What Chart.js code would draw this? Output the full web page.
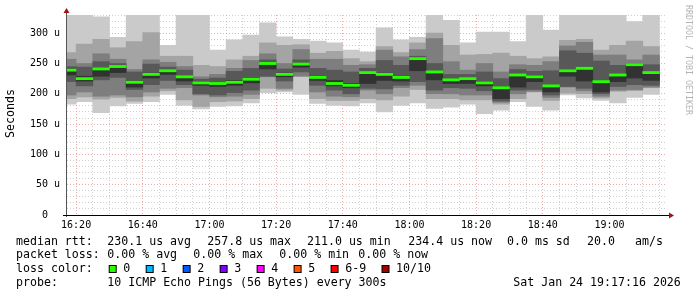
<!DOCTYPE html>
<html>
<head>
<meta charset="utf-8">
<script src="https://cdn.jsdelivr.net/npm/chart.js@4.4.1/dist/chart.umd.min.js"></script>
<style>
html, body { margin: 0; padding: 0; background: #fff; overflow: hidden; }
canvas { display: block; }
</style>
</head>
<body>
<canvas id="smoke" width="697" height="297"></canvas>
<script>
// --- time range of the graph and the 5 minute steps (timestamp = end of step) ---
const timeRange = ['16:17:16', '19:17:16'];
const stepEnd = ['16:20','16:25','16:30','16:35','16:40','16:45','16:50','16:55',
  '17:00','17:05','17:10','17:15','17:20','17:25','17:30','17:35','17:40','17:45','17:50','17:55',
  '18:00','18:05','18:10','18:15','18:20','18:25','18:30','18:35','18:40','18:45','18:50','18:55',
  '19:00','19:05','19:10','19:15'];

// --- 10 pings per step, sorted (rtt1 = fastest, rtt10 = slowest), in us ---
const rtt10 = [335,335,327,293,335,335,280,335,335,272,289,297,317,294,290,287,284,272,269,309,289,293,335,321,284,302,302,286,335,305,335,335,335,335,319,335];
const rtt9  = [268,282,290,276,286,301,262,262,247,245,256,262,284,280,281,267,270,258,253,278,268,284,300,280,264,265,267,262,258,261,288,290,272,280,287,278];
const rtt8  = [257,250,266,257,240,256,252,245,228,232,242,255,266,250,273,257,257,247,248,272,261,273,291,253,239,250,236,248,247,253,279,285,264,264,256,264];
const rtt7  = [245,244,253,250,236,249,244,239,224,226,237,242,256,241,256,242,239,236,242,255,247,262,250,232,232,236,225,240,237,238,271,267,254,247,250,248];
const rtt6  = [241,229,242,246,221,234,239,229,220,218,222,226,250,234,250,229,222,217,236,234,229,259,237,224,226,220,212,232,230,213,240,243,221,232,249,236];
const rtt5  = [231,221,229,235,211,226,232,221,214,212,214,218,241,228,244,222,213,210,217,222,221,238,223,217,217,213,192,211,220,203,229,221,203,220,226,222];
const rtt4  = [220,213,223,227,207,215,222,215,200,198,202,206,229,221,236,214,206,200,209,208,214,220,206,210,209,205,188,206,207,198,212,209,200,212,215,214];
const rtt3  = [198,203,196,198,195,203,209,210,198,195,196,199,228,209,229,203,196,195,206,200,210,214,200,200,198,198,186,200,204,194,211,205,196,206,207,211];
const rtt2  = [192,195,191,194,188,196,205,190,179,187,188,192,209,206,229,192,189,189,192,190,196,207,192,192,190,190,183,192,203,189,201,200,193,204,205,210];
const rtt1  = [183,187,169,180,184,187,199,181,175,179,180,185,202,203,199,184,181,180,185,170,181,185,176,178,183,167,173,187,179,173,198,193,189,185,194,199];
const medianRtt = [239,225,241,245,219,232,238,228,218,217,219,224,250,232,249,227,217,214,235,232,227,258,236,223,225,218,210,231,228,213,238,242,220,231,248,235];

// --- axis labels and legend ---
const xTickLabels = ['16:20','16:40','17:00','17:20','17:40','18:00','18:20','18:40','19:00'];
const yTickLabels = ['0  ','50 u','100 u','150 u','200 u','250 u','300 u'];
const lossLabels = ['0','1','2','3','4','5','6-9','10/10'];
const lossColors = ['#26ff00','#00b8ff','#0059ff','#7e00ff','#ff00ff','#ff5500','#ff0000','#a10000'];
const smokeColors = ['#cacaca','#a4a4a4','#7e7e7e','#585858','#323232'];

const MONO = '"DejaVu Sans Mono", "Liberation Mono", monospace';

// minutes since 16:00
function toMin(s) {
    const p = s.split(':').map(Number);
    return (p[0] - 16) * 60 + p[1] + (p[2] || 0) / 60;
}
function fmtMin(v) {
    const t = Math.round(v);
    const h = 16 + Math.floor(t / 60), m = t % 60;
    return h + ':' + String(m).padStart(2, '0');
}

const centers = stepEnd.map(s => toMin(s) - 2.5);
const sorted = [rtt1, rtt2, rtt3, rtt4, rtt5, rtt6, rtt7, rtt8, rtt9, rtt10];

// outer pair lightest, inner pair darkest
const datasets = smokeColors.map((c, L) => ({
    label: 'smoke ' + (L + 1),
    data: centers.map((x, i) => ({ x: x, y: [sorted[L][i], sorted[9 - L][i]] })),
    backgroundColor: c,
    order: 10 - L
}));
datasets.push({
    label: 'median rtt',
    data: centers.map((x, i) => ({ x: x, y: [medianRtt[i] - 1.8, medianRtt[i] + 1.8] })),
    backgroundColor: lossColors[0],
    order: 1
});

// --- axes, arrows and text outside the plot ---
const decorPlugin = {
    id: 'decor',
    afterDraw(chart) {
        const ctx = chart.ctx;
        const a = chart.chartArea;
        ctx.save();

        // axes
        ctx.lineWidth = 1;
        ctx.strokeStyle = '#555';
        ctx.beginPath();
        ctx.moveTo(a.left - 0.5, a.bottom + 2);
        ctx.lineTo(a.left - 0.5, a.top - 5);
        ctx.stroke();
        ctx.strokeStyle = '#000';
        ctx.beginPath();
        ctx.moveTo(a.left - 4, a.bottom + 0.5);
        ctx.lineTo(a.right + 3, a.bottom + 0.5);
        ctx.stroke();

        // arrows
        ctx.fillStyle = '#9a1616';
        ctx.beginPath();
        ctx.moveTo(a.left - 0.5, a.top - 7);
        ctx.lineTo(a.left - 3.5, a.top - 2);
        ctx.lineTo(a.left + 2.5, a.top - 2);
        ctx.closePath();
        ctx.fill();
        ctx.beginPath();
        ctx.moveTo(a.right + 7, a.bottom + 0.5);
        ctx.lineTo(a.right + 2, a.bottom - 2.5);
        ctx.lineTo(a.right + 2, a.bottom + 3.5);
        ctx.closePath();
        ctx.fill();

        // y title
        ctx.fillStyle = '#000';
        ctx.font = '11.6px ' + MONO;
        ctx.textAlign = 'center';
        ctx.textBaseline = 'middle';
        ctx.save();
        ctx.translate(11, 113.5);
        ctx.rotate(-Math.PI / 2);
        ctx.fillText('Seconds', 0, 0);
        ctx.restore();

        // watermark
        ctx.save();
        ctx.fillStyle = '#b4b4b4';
        ctx.font = '8.3px ' + MONO;
        ctx.textAlign = 'left';
        ctx.translate(688, 5);
        ctx.rotate(Math.PI / 2);
        ctx.fillText('RRDTOOL / TOBI OETIKER', 0, 0);
        ctx.restore();

        // legend rows
        ctx.font = '11.6px ' + MONO;
        ctx.textAlign = 'left';
        ctx.fillStyle = '#000';
        const rows = [
            [241.7, [['median rtt:', 16], ['230.1 us avg', 107.3], ['257.8 us max', 207.3], ['211.0 us min', 307],
                     ['234.4 us now', 408.3], ['0.0 ms sd', 507], ['20.0', 587], ['am/s', 635]]],
            [255, [['packet loss:', 16], ['0.00 % avg', 107.3], ['0.00 % max', 193.3], ['0.00 % min', 279.3], ['0.00 % now', 358.3]]],
            [269, [['loss color:', 16]]],
            [282.7, [['probe:', 16], ['10 ICMP Echo Pings (56 Bytes) every 300s', 107.3], ['Sat Jan 24 19:17:16 2026', 513.3]]]
        ];
        rows.forEach(([y, items]) => items.forEach(([t, x]) => ctx.fillText(t, x, y)));

        // loss colour boxes
        let x = 108.7;
        lossLabels.forEach((lbl, i) => {
            ctx.fillStyle = '#000';
            ctx.fillRect(x, 265, 8, 8);
            ctx.fillStyle = lossColors[i];
            ctx.fillRect(x + 1, 266, 6, 6);
            ctx.fillStyle = '#000';
            ctx.fillText(lbl, x + 14.6, 269);
            x += 14.6 + ctx.measureText(lbl).width + 15.4;
        });
        ctx.restore();
    }
};

const gridDash = [1, 2];
const minorGrid = 'rgba(150,150,150,0.45)';
const majorGrid = 'rgba(220,70,70,0.45)';

new Chart(document.getElementById('smoke'), {
    type: 'bar',
    data: { datasets: datasets },
    options: {
        responsive: false,
        animation: false,
        devicePixelRatio: 1,
        events: [],
        layout: { padding: { top: 15, right: 30, left: 0, bottom: 0 } },
        datasets: {
            bar: {
                grouped: false,
                barPercentage: 1,
                categoryPercentage: 1,
                borderWidth: 0,
                clip: 0
            }
        },
        plugins: { legend: { display: false }, tooltip: { enabled: false } },
        scales: {
            x: {
                type: 'linear',
                z: 1,
                offset: false,
                min: toMin(timeRange[0]),
                max: toMin(timeRange[0]) + 180,
                afterBuildTicks: s => { s.ticks = stepEnd.map(t => ({ value: toMin(t) })); },
                afterFit: s => { s.height = 82; },
                grid: {
                    offset: false,
                    drawTicks: false,
                    lineWidth: 1,
                    color: c => (c.tick && xTickLabels.includes(fmtMin(c.tick.value))) ? majorGrid : minorGrid
                },
                border: { display: false, dash: gridDash },
                ticks: {
                    autoSkip: false,
                    maxRotation: 0,
                    minRotation: 0,
                    padding: 4,
                    color: '#000',
                    font: { family: MONO, size: 10 },
                    callback: v => { const l = fmtMin(v); return xTickLabels.includes(l) ? l : ''; }
                }
            },
            y: {
                z: 1,
                min: 0,
                max: 330,
                afterFit: s => { s.width = 67; },
                grid: {
                    drawTicks: false,
                    lineWidth: 1,
                    color: c => (c.tick && c.tick.value % 50 === 0) ? majorGrid : minorGrid
                },
                border: { display: false, dash: gridDash },
                ticks: {
                    stepSize: 10,
                    maxTicksLimit: 100,
                    autoSkip: false,
                    includeBounds: false,
                    padding: 7,
                    color: '#000',
                    font: { family: MONO, size: 10 },
                    callback: v => (v % 50 === 0 ? yTickLabels[v / 50] : '')
                }
            }
        }
    },
    plugins: [decorPlugin]
});
</script>
</body>
</html>
